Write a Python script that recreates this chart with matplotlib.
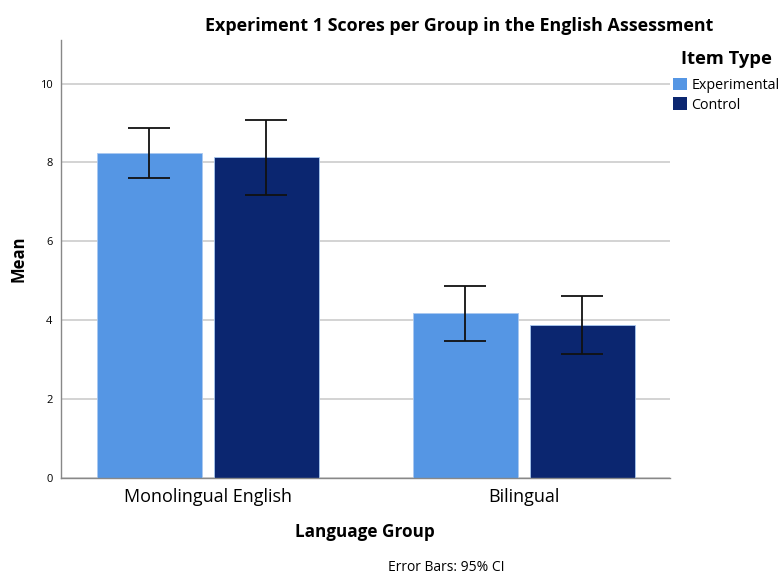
import numpy as np
import matplotlib.pyplot as plt
from matplotlib.patches import Patch

plt.rcParams['font.family'] = ['Open Sans', 'DejaVu Sans']

groups = ['Monolingual English', 'Bilingual']
series = ['Experimental', 'Control']
means = {
    'Experimental': [8.24, 4.18],
    'Control': [8.13, 3.88],
}
ci_low = {
    'Experimental': [7.61, 3.48],
    'Control': [7.18, 3.15],
}
ci_high = {
    'Experimental': [8.88, 4.88],
    'Control': [9.08, 4.62],
}
colors = {'Experimental': '#5596e4', 'Control': '#0b2670'}
yticks = [0, 2, 4, 6, 8, 10]

fig = plt.figure(figsize=(7.79, 5.74), dpi=100)
ax = fig.add_axes([0.078, 0.167, 0.782, 0.763])

x = np.arange(len(groups))
width = 0.332
offsets = [-0.185, 0.185]
for s, off in zip(series, offsets):
    m = np.array(means[s])
    lo = m - np.array(ci_low[s])
    hi = np.array(ci_high[s]) - m
    ax.bar(x + off, m, width, color=colors[s], edgecolor='#a9c8f0',
           linewidth=0.6, zorder=2)
    ax.errorbar(x + off, m, yerr=[lo, hi], fmt='none', ecolor='#111111',
                elinewidth=1.3, capsize=15, capthick=1.3, zorder=3)

ax.set_xlim(-0.465, 1.462)
ax.set_ylim(0, 11.1)
ax.set_yticks(yticks)
ax.set_yticklabels([str(t) for t in yticks], fontsize=8)
ax.set_xticks(x)
ax.set_xticklabels(groups, fontsize=13)
ax.tick_params(axis='x', length=0, pad=7)
ax.tick_params(axis='y', length=0, pad=6)
ax.yaxis.grid(True, color='#cccccc', linewidth=1.2, zorder=0)
ax.set_axisbelow(True)
for side in ['top', 'right']:
    ax.spines[side].set_visible(False)
for side in ['left', 'bottom']:
    ax.spines[side].set_color('#888888')
    ax.spines[side].set_linewidth(1.0)

ax.set_ylabel('Mean', fontsize=12, fontweight='bold', labelpad=9)
ax.set_xlabel('Language Group', fontsize=12.3, fontweight='bold', labelpad=12)

fig.text(0.589, 0.954, 'Experiment 1 Scores per Group in the English Assessment',
         ha='center', va='center', fontsize=12.9, fontweight='bold')

handles = [Patch(facecolor=colors[s], edgecolor='none') for s in series]
leg = fig.legend(handles, series, loc='upper left',
                 bbox_to_anchor=(0.8635, 0.913), frameon=False,
                 fontsize=10.3, title='Item Type',
                 title_fontproperties={'weight': 'bold', 'size': 13.2},
                 handlelength=1.0, handleheight=1.0, handletextpad=0.3,
                 labelspacing=0.3, borderaxespad=0, borderpad=0)
leg._legend_box.sep = 7

fig.text(0.573, 0.006, 'Error Bars: 95% CI', ha='center', va='baseline',
         fontsize=10)

fig.savefig('out.png', dpi=100)
